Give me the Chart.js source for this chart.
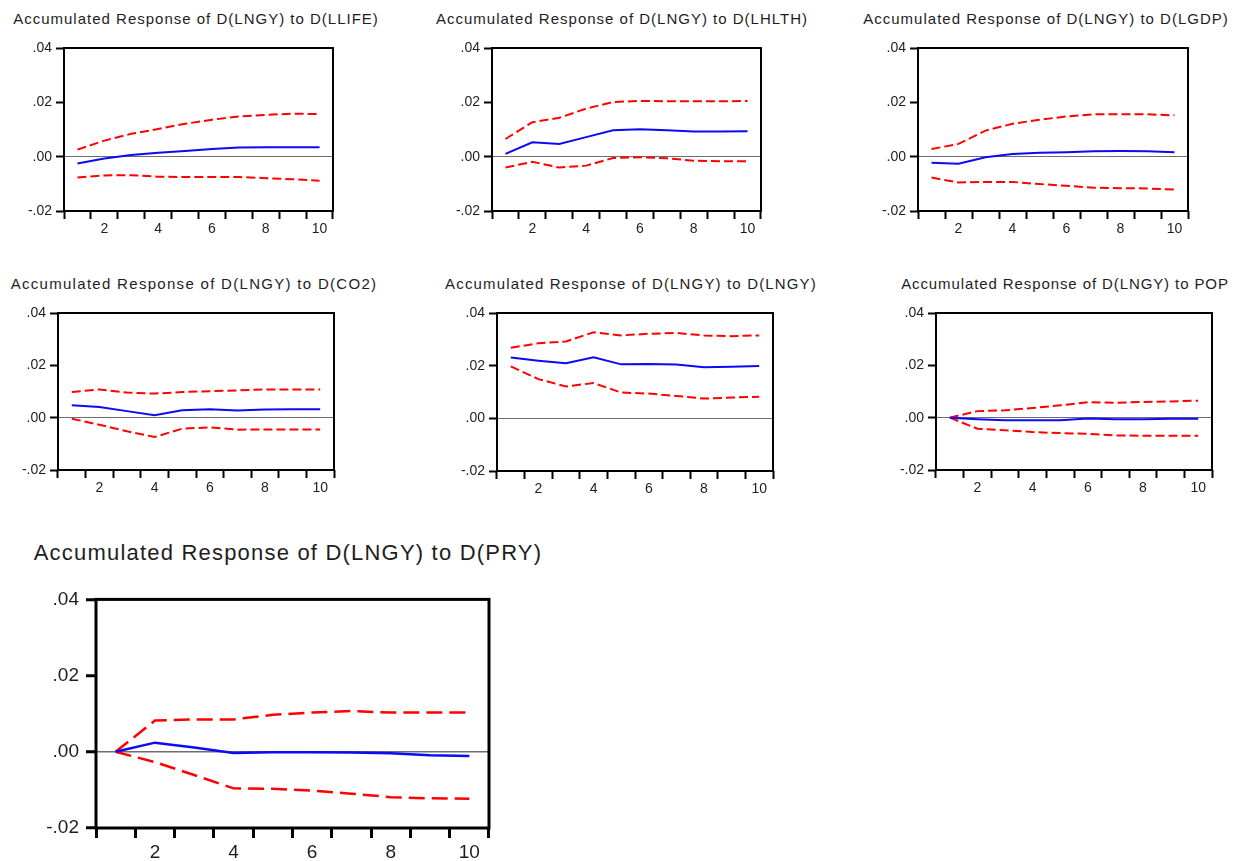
<!DOCTYPE html>
<html>
<head>
<meta charset="utf-8">
<title>Accumulated Response of D(LNGY)</title>
<script src="https://cdn.jsdelivr.net/npm/chart.js@4.4.1/dist/chart.umd.min.js"></script>
<style>
    html, body { margin: 0; padding: 0; background: #fff; }
    body { width: 1244px; height: 861px; position: relative; overflow: hidden; font-family: "Liberation Sans", Arial, sans-serif; }
    .panel-title { position: absolute; white-space: nowrap; color: #1e1e1e; transform: translateX(-50%); }
    .panel-title.small { font-size: 15px; line-height: 17px; letter-spacing: 1px; }
    .panel-title.big { font-size: 22px; line-height: 25px; letter-spacing: 1.2px; }
    canvas { position: absolute; }
</style>
</head>
<body>
<script>
// Periods (x categories) and y tick values
const periods = ['1', '2', '3', '4', '5', '6', '7', '8', '9', '10'];
const yTickValues = [-0.02, 0.00, 0.02, 0.04];

// Accumulated response + lower / upper bands, one set per shock
const llifeResp  = [-0.0025, -0.0007, 0.0006, 0.0014, 0.0021, 0.0028, 0.0034, 0.0035, 0.0035, 0.0035];
const llifeUpper = [0.0026, 0.0059, 0.0084, 0.0102, 0.0121, 0.0136, 0.0148, 0.0154, 0.0158, 0.0157];
const llifeLower = [-0.0077, -0.0069, -0.0068, -0.0074, -0.0075, -0.0075, -0.0075, -0.0079, -0.0083, -0.0089];

const lhlthResp  = [0.0010, 0.0053, 0.0047, 0.0072, 0.0097, 0.0101, 0.0097, 0.0093, 0.0093, 0.0094];
const lhlthUpper = [0.0065, 0.0127, 0.0143, 0.0177, 0.0201, 0.0205, 0.0204, 0.0204, 0.0204, 0.0205];
const lhlthLower = [-0.0040, -0.0019, -0.0040, -0.0033, -0.0005, -0.0002, -0.0006, -0.0015, -0.0017, -0.0017];

const lgdpResp  = [-0.0022, -0.0026, -0.0002, 0.0010, 0.0014, 0.0016, 0.0020, 0.0021, 0.0020, 0.0016];
const lgdpUpper = [0.0028, 0.0047, 0.0096, 0.0121, 0.0136, 0.0148, 0.0156, 0.0156, 0.0156, 0.0152];
const lgdpLower = [-0.0077, -0.0095, -0.0093, -0.0093, -0.0101, -0.0107, -0.0114, -0.0116, -0.0117, -0.0121];

const co2Resp  = [0.0047, 0.0041, 0.0025, 0.0009, 0.0028, 0.0032, 0.0027, 0.0031, 0.0032, 0.0032];
const co2Upper = [0.0098, 0.0108, 0.0096, 0.0092, 0.0098, 0.0101, 0.0104, 0.0108, 0.0108, 0.0108];
const co2Lower = [-0.0004, -0.0027, -0.0052, -0.0074, -0.0042, -0.0037, -0.0046, -0.0045, -0.0045, -0.0045];

const lngyResp  = [0.0231, 0.0219, 0.0209, 0.0232, 0.0205, 0.0206, 0.0204, 0.0194, 0.0196, 0.0199];
const lngyUpper = [0.0268, 0.0285, 0.0292, 0.0327, 0.0315, 0.0321, 0.0324, 0.0315, 0.0312, 0.0315];
const lngyLower = [0.0197, 0.0149, 0.0121, 0.0134, 0.0098, 0.0094, 0.0085, 0.0075, 0.0079, 0.0082];

const popResp  = [0, -0.0006, -0.0010, -0.0010, -0.0010, -0.0003, -0.0006, -0.0006, -0.0004, -0.0004];
const popUpper = [0, 0.0025, 0.0028, 0.0037, 0.0047, 0.0059, 0.0057, 0.0060, 0.0062, 0.0065];
const popLower = [0, -0.0042, -0.0048, -0.0055, -0.0059, -0.0062, -0.0068, -0.0069, -0.0069, -0.0069];

const pryResp  = [0, 0.0024, 0.0011, -0.0003, -0.0001, -0.0001, -0.0002, -0.0004, -0.0009, -0.0011];
const pryUpper = [0, 0.0082, 0.0085, 0.0085, 0.0097, 0.0103, 0.0107, 0.0103, 0.0103, 0.0103];
const pryLower = [0, -0.0027, -0.0061, -0.0096, -0.0097, -0.0102, -0.0110, -0.0119, -0.0122, -0.0123];

// Panel layout (plot box edges in page pixels, title centre)
const panels = [
    { title: 'Accumulated Response of D(LNGY) to D(LLIFE)', resp: llifeResp, upper: llifeUpper, lower: llifeLower,
      box: { left: 64, right: 333, top: 48, bottom: 211 }, titleX: 196, titleY: 10 },
    { title: 'Accumulated Response of D(LNGY) to D(LHLTH)', resp: lhlthResp, upper: lhlthUpper, lower: lhlthLower,
      box: { left: 492, right: 761, top: 48, bottom: 211 }, titleX: 622, titleY: 10 },
    { title: 'Accumulated Response of D(LNGY) to D(LGDP)', resp: lgdpResp, upper: lgdpUpper, lower: lgdpLower,
      box: { left: 918, right: 1188, top: 48, bottom: 211 }, titleX: 1046, titleY: 10 },
    { title: 'Accumulated Response of D(LNGY) to D(CO2)', resp: co2Resp, upper: co2Upper, lower: co2Lower,
      box: { left: 58, right: 334, top: 313, bottom: 470 }, titleX: 194, titleY: 275, spacing: 1.3 },
    { title: 'Accumulated Response of D(LNGY) to D(LNGY)', resp: lngyResp, upper: lngyUpper, lower: lngyLower,
      box: { left: 497, right: 773, top: 313, bottom: 471 }, titleX: 631, titleY: 275, spacing: 1.15 },
    { title: 'Accumulated Response of D(LNGY) to POP', resp: popResp, upper: popUpper, lower: popLower,
      box: { left: 936, right: 1212, top: 313, bottom: 470 }, titleX: 1065, titleY: 275, spacing: 0.9 },
    { title: 'Accumulated Response of D(LNGY) to D(PRY)', resp: pryResp, upper: pryUpper, lower: pryLower,
      box: { left: 96, right: 489, top: 595, bottom: 828 }, titleX: 288, titleY: 540, big: true }
];

// Black box round the plot area, EViews style
const framePlugin = {
    id: 'frame',
    afterDraw(chart, args, opts) {
        const a = chart.chartArea;
        const ctx = chart.ctx;
        ctx.save();
        ctx.strokeStyle = '#000';
        ctx.lineWidth = opts.width || 2;
        ctx.strokeRect(a.left, a.top, a.right - a.left, a.bottom - a.top);
        ctx.restore();
    }
};

function fmtTick(v) {
    if (Math.abs(v) < 1e-9) return '.00';
    return v.toFixed(2).replace('0.', '.');
}

function drawPanel(p) {
    const big = !!p.big;
    const yW = big ? 80 : 52;
    const xH = big ? 40 : 30;
    const padTop = 14, padRight = 12;
    const fontSize = big ? 19 : 14;
    const lineW = big ? 3 : 2;

    const title = document.createElement('div');
    title.className = 'panel-title ' + (big ? 'big' : 'small');
    title.textContent = p.title;
    title.style.left = p.titleX + 'px';
    title.style.top = p.titleY + 'px';
    if (p.spacing) title.style.letterSpacing = p.spacing + 'px';
    document.body.appendChild(title);

    const canvas = document.createElement('canvas');
    canvas.width = yW + (p.box.right - p.box.left) + padRight;
    canvas.height = padTop + (p.box.bottom - p.box.top) + xH;
    canvas.style.left = (p.box.left - yW) + 'px';
    canvas.style.top = (p.box.top - padTop) + 'px';
    document.body.appendChild(canvas);

    new Chart(canvas.getContext('2d'), {
        type: 'line',
        data: {
            labels: periods,
            datasets: [
                { data: p.resp, borderColor: '#0a0af5', borderWidth: big ? 2.5 : 2 },
                { data: p.upper, borderColor: '#ff0000', borderWidth: big ? 2.5 : 2, borderDash: big ? [16, 7] : [9, 4] },
                { data: p.lower, borderColor: '#ff0000', borderWidth: big ? 2.5 : 2, borderDash: big ? [16, 7] : [9, 4] }
            ]
        },
        options: {
            responsive: false,
            animation: false,
            layout: { padding: { top: padTop, right: padRight, left: 0, bottom: 0 } },
            elements: {
                point: { radius: 0 },
                line: { tension: 0 }
            },
            plugins: {
                legend: { display: false },
                tooltip: { enabled: false },
                frame: { width: lineW }
            },
            scales: {
                x: {
                    type: 'category',
                    offset: true,
                    border: { display: false },
                    grid: {
                        offset: true,
                        drawOnChartArea: false,
                        tickLength: big ? 10 : 8,
                        tickColor: '#000',
                        tickWidth: lineW
                    },
                    ticks: {
                        autoSkip: false,
                        maxRotation: 0,
                        padding: big ? 3 : 2,
                        color: '#1e1e1e',
                        font: { family: '"Liberation Sans", Arial, sans-serif', size: fontSize },
                        callback: function(value, index) {
                            const lbl = periods[index];
                            return Number(lbl) % 2 === 0 ? lbl : '';
                        }
                    },
                    afterFit: function(scale) { scale.height = xH; }
                },
                y: {
                    min: -0.02,
                    max: 0.04,
                    border: { display: false },
                    grid: {
                        drawOnChartArea: true,
                        color: ctx => (ctx.tick && Math.abs(ctx.tick.value) < 1e-9) ? '#6e6e6e' : 'rgba(0,0,0,0)',
                        lineWidth: big ? 1.5 : 1,
                        tickLength: big ? 10 : 8,
                        tickColor: '#000',
                        tickWidth: lineW
                    },
                    ticks: {
                        padding: big ? 7 : 4,
                        color: '#1e1e1e',
                        font: { family: '"Liberation Sans", Arial, sans-serif', size: fontSize },
                        callback: fmtTick
                    },
                    afterBuildTicks: function(scale) {
                        scale.ticks = yTickValues.map(v => ({ value: v }));
                    },
                    afterFit: function(scale) { scale.width = yW; }
                }
            }
        },
        plugins: [framePlugin]
    });
}

panels.forEach(drawPanel);
</script>
</body>
</html>
